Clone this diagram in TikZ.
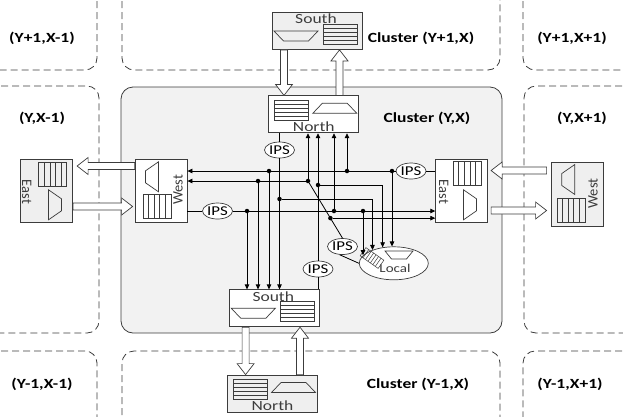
\documentclass[tikz,border=0pt]{standalone}
\usepackage{fontspec}
\setmainfont{Carlito}[FakeStretch=1.25]
\newfontfamily\uprightfont{Carlito}
\usetikzlibrary{arrows.meta,calc,positioning,shapes.geometric}

\definecolor{panel}{HTML}{F2F2F2}
\definecolor{ghostfill}{HTML}{EFEFEF}
\definecolor{edge}{HTML}{3C3C3C}

\tikzset{
  pics/hqueue/.style={code={
    \draw[sym] (-17,-10) rectangle (17,10);
    \foreach \k in {-6,-2,2,6} \draw[sym] (-17,\k) -- (17,\k);
  }},
  pics/vqueue/.style={code={
    \draw[sym] (-14,-12) rectangle (14,12);
    \foreach \k in {-8.4,-2.8,2.8,8.4} \draw[sym] (\k,-12) -- (\k,12);
  }},
  pics/htrap/.style={code={
    \draw[sym] (-22,5) -- (22,5) -- (12.5,-5) -- (-12.5,-5) -- cycle;
  }},
  pics/vtrap/.style={code={
    \draw[sym] (6.5,-15) -- (6.5,15) -- (-6.5,6) -- (-6.5,-6) -- cycle;
  }},
  pics/hatchq/.style={code={
    \draw[sym, line width=0.5pt] (-11,-5) rectangle (11,5);
    \foreach \k in {-7.5,-4.5,...,7.5} \draw[sym, line width=0.5pt] (\k,-5) -- (\k,5);
  }},
  pics/ltrap/.style={code={
    \draw[sym] (-14,-4) -- (14,-4) -- (7.5,4) -- (-7.5,4) -- cycle;
  }}
}

\begin{document}
\begin{tikzpicture}[
    x=1pt, y=-1pt,
    nbr/.style={draw=edge, line width=0.8pt, dash pattern=on 7pt off 4pt, rounded corners=12pt},
    cluster/.style={draw=edge, fill=panel, line width=0.8pt, rounded corners=12pt},
    hrouter/.style={rectangle, draw=edge, line width=0.8pt, fill=white, minimum width=90pt, minimum height=37pt, inner sep=0pt},
    vrouter/.style={rectangle, draw=edge, line width=0.8pt, fill=white, minimum width=52pt, minimum height=63pt, inner sep=0pt},
    ghost/.style={fill=ghostfill},
    ips/.style={ellipse, draw=edge, fill=white, line width=0.7pt, minimum width=30pt, minimum height=16pt, inner sep=0pt, font=\fontsize{13.5}{14}\selectfont},
    wire/.style={draw=black, line width=0.8pt},
    dot/.style={circle, fill=black, minimum size=4.5pt, inner sep=0pt},
    sym/.style={draw=edge, line width=0.7pt},
    lbl/.style={font=\bfseries\fontsize{14}{16}\selectfont},
    rname/.style={font=\fontsize{14}{16}\selectfont, text=edge},
    vname/.style={font=\uprightfont\fontsize{14.5}{16}\selectfont, text=edge},
    fat/.style={draw=edge, fill=white, line width=0.7pt, to path={
      let \p1=($(\tikztotarget)-(\tikztostart)$), \n1={atan2(\y1,\x1)}, \n2={veclen(\x1,\y1)-11} in
      ($(\tikztostart)+(\n1+90:3.5pt)$)
      -- ($(\tikztostart)+(\n1:\n2)+(\n1+90:3.5pt)$)
      -- ($(\tikztostart)+(\n1:\n2)+(\n1+90:8.5pt)$)
      -- (\tikztotarget)
      -- ($(\tikztostart)+(\n1:\n2)+(\n1-90:8.5pt)$)
      -- ($(\tikztostart)+(\n1:\n2)+(\n1-90:3.5pt)$)
      -- ($(\tikztostart)+(\n1-90:3.5pt)$)
      -- cycle}},
    >={Triangle[length=5pt,width=4.5pt]}
]
\useasboundingbox (0,0) rectangle (623,416);

% neighbouring clusters
\draw[nbr] (97,-10) -- (97,70) -- (-10,70);
\draw[nbr] (122,-10) -- (122,70) -- (500,70) -- (500,-10);
\draw[nbr] (523,-10) -- (523,70) -- (633,70);
\draw[nbr] (-10,86) -- (99,86) -- (99,333) -- (-10,333);
\draw[nbr] (633,86) -- (524,86) -- (524,333) -- (633,333);
\draw[nbr] (-10,351) -- (97,351) -- (97,426);
\draw[nbr] (122,426) -- (122,351) -- (500,351) -- (500,426);
\draw[nbr] (633,351) -- (523,351) -- (523,426);
\draw[cluster] (121,87) rectangle (502,333);

\node[lbl] (tl) at (42,38) {(Y+1,X-1)};
\node[lbl] (tm) at (421,38) {Cluster (Y+1,X)};
\node[lbl] (tr) at (572,38) {(Y+1,X+1)};
\node[lbl] (ml) at (42,118) {(Y,X-1)};
\node[lbl] (mm) at (427,118) {Cluster (Y,X)};
\node[lbl] (mr) at (582,118) {(Y,X+1)};
\node[lbl] (bl) at (42,384) {(Y-1,X-1)};
\node[lbl] (bm) at (418,384) {Cluster (Y-1,X)};
\node[lbl] (br) at (570,384) {(Y-1,X+1)};

% routers
\node[hrouter] (N) at (313.8,114.3) {};
\node[hrouter] (S) at (274.3,308.3) {};
\node[vrouter] (W) at (161,190.8) {};
\node[vrouter] (E) at (461.7,190.8) {};
\node[hrouter, ghost] (nS) at (317,31) {};
\node[hrouter, ghost] (nN) at (272.5,393.5) {};
\node[vrouter, ghost] (nE) at (46.7,190.8) {};
\node[vrouter, ghost, minimum height=64pt] (nW) at (577,194.5) {};

\pic at ($(N)+(-22,-4)$) {hqueue};
\pic at ($(N)+(21,-6)$) {htrap};
\node[rname] (Nt) at ($(N)+(0,12.5)$) {North};
\pic at ($(nN)+(-22,-4)$) {hqueue};
\pic at ($(nN)+(21,-6)$) {htrap};
\node[rname] (nNt) at ($(nN)+(0,12.5)$) {North};
\pic at ($(S)+(23,3.4)$) {hqueue};
\pic[rotate=180] at ($(S)+(-21,5)$) {htrap};
\node[rname] (St) at ($(S)+(-1,-12)$) {South};
\pic at ($(nS)+(23,3.4)$) {hqueue};
\pic[rotate=180] at ($(nS)+(-21,5)$) {htrap};
\node[rname] (nSt) at ($(nS)+(-1,-12)$) {South};
\pic at ($(W)+(-9,-14)$) {vtrap};
\pic at ($(W)+(-4,16)$) {vqueue};
\node[vname, rotate=90] (Wt) at ($(W)+(17,-1)$) {West};
\pic at ($(nW)+(-8.7,-15)$) {vtrap};
\pic at ($(nW)+(-6,16)$) {vqueue};
\node[vname, rotate=90] (nWt) at ($(nW)+(16,-1)$) {West};
\pic at ($(E)+(5.5,-17)$) {vqueue};
\pic[rotate=180] at ($(E)+(8.3,14)$) {vtrap};
\node[vname, rotate=-90] (Et) at ($(E)+(-18,1)$) {East};
\pic at ($(nE)+(6,-16)$) {vqueue};
\pic[rotate=180] at ($(nE)+(8.3,14)$) {vtrap};
\node[vname, rotate=-90] (nEt) at ($(nE)+(-20,1)$) {East};

% local port
\node[ellipse, draw=edge, fill=white, line width=0.7pt, minimum width=69pt, minimum height=33pt] (loc) at (393.8,263.3) {};
\pic[rotate=-35] at (372,258) {hatchq};
\pic at (399,255) {ltrap};
\node[font=\fontsize{12}{13}\selectfont, text=edge] (loct) at (395,268.5) {Local};

% links between clusters
\coordinate (s1) at ($(nS.south)+(-33,0)$);  \coordinate (t1) at (s1 |- N.north);
\coordinate (s2) at ($(N.north)+(25.7,0)$);  \coordinate (t2) at (s2 |- nS.south);
\coordinate (s3) at ($(S.south)+(-28.7,0)$); \coordinate (t3) at (s3 |- nN.north);
\coordinate (s4) at ($(nN.north)+(27.5,0)$); \coordinate (t4) at (s4 |- S.south);
\coordinate (s5) at ($(W.west)+(0,-24.8)$);  \coordinate (t5) at ($(s5 -| nE.east)+(4,0)$);
\coordinate (s6) at ($(nE.east)+(0,15.7)$);  \coordinate (t6) at ($(s6 -| W.west)+(-2,0)$);
\coordinate (s7) at ($(nW.west)+(-4,-24)$);  \coordinate (t7) at ($(s7 -| E.east)+(3,0)$);
\coordinate (s8) at ($(E.east)+(3,19.7)$);   \coordinate (t8) at ($(s8 -| nW.west)+(-4,0)$);
\foreach \a/\b in {s1/t1, s2/t2, s3/t3, s4/t4, s5/t5, s6/t6, s7/t7, s8/t8}
  \draw[fat] (\a) to (\b);

% input port selectors
\node[ips] (ipsN) at (279.5,150) {IPS};
\node[ips] (ipsE) at (411,171) {IPS};
\node[ips] (ipsW) at (217.5,211) {IPS};
\node[ips] (ipsL) at (342.5,246.5) {IPS};
\node[ips] (ipsS) at (318,269) {IPS};

% junctions
\node[dot] (a1) at (269,171) {};
\node[dot] (a2) at (347,171) {};
\node[dot] (a3) at (392,171) {};
\node[dot] (b0) at (258,181) {};
\node[dot] (b1) at (308,181) {};
\node[dot] (c1) at (318,185) {};
\node[dot] (d1) at (279.5,199) {};
\node[dot] (e1) at (247,211) {};
\node[dot] (e2) at (334,211) {};
\node[dot] (e3) at (363,211) {};
\node[dot] (f1) at ($(b1)!0.65!(ipsL.north)$) {};

% crossbar wiring
\draw[wire] (E.west |- ipsE) -- (ipsE);
\draw[wire, ->] (ipsE) -- (ipsE -| W.east);
\draw[wire] (W.east |- ipsW) -- (ipsW);
\draw[wire, ->] (ipsW) -- (ipsW -| E.west);
\draw[wire] (ipsN |- N.south) -- (ipsN);
\draw[wire, ->] (ipsN) -- (ipsN |- S.north);
\draw[wire] (ipsS) -- (ipsS |- S.north);
\draw[wire, ->] (ipsS) -- (ipsS |- N.south);
\draw[wire] (ipsL.north) -- (b1);
\draw[wire] (ipsL.250) -- (loc.west);
\draw[wire, ->] (b1) -- (b1 -| W.east);
\draw[wire, ->] (f1) -- (f1 -| E.west);
\draw[wire, ->] (c1) -| (loc.125);
\draw[wire, ->] (d1) -| (loc.148);
\foreach \j in {a1, b0, e1}
  \draw[wire, ->] (\j) -- (\j |- S.north);
\foreach \j in {a2, b1, e2}
  \draw[wire, ->] (\j) -- (\j |- N.south);
\draw[wire, ->] (a3) -- (a3 |- loc.93);
\draw[wire, ->] (e3) -- (e3 |- loc.165);
\end{tikzpicture}
\end{document}
